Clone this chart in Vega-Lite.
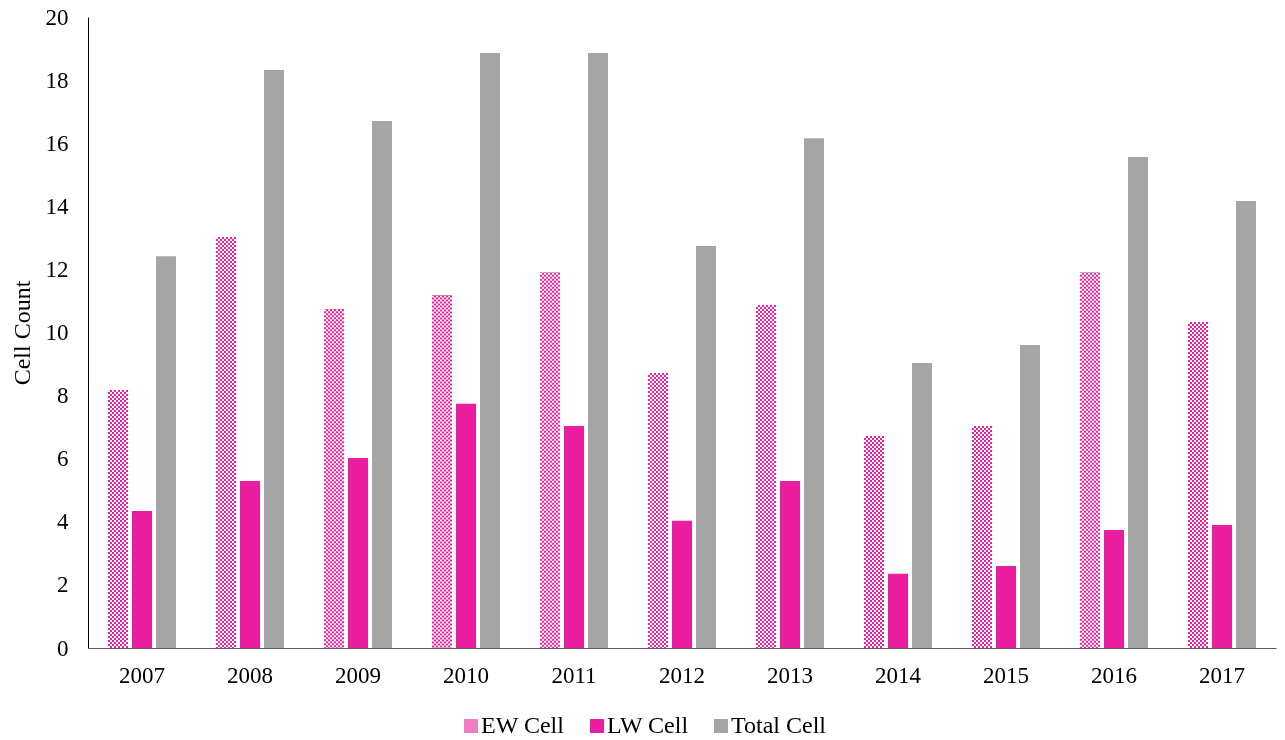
{
  "$schema": "https://vega.github.io/schema/vega-lite/v6.json",
  "width": 1188,
  "height": 631,
  "autosize": "none",
  "padding": {"left": 88, "top": 17, "right": 9, "bottom": 92},
  "background": "white",
  "config": {
    "view": {"stroke": null},
    "font": "Liberation Serif",
    "axis": {
      "labelFont": "Liberation Serif",
      "labelFontSize": 23,
      "labelColor": "#000000",
      "titleFont": "Liberation Serif",
      "titleFontSize": 24,
      "titleFontWeight": "normal",
      "titleColor": "#000000",
      "grid": false,
      "ticks": false
    }
  },
  "data": {
    "values": [
      {"year": "2007", "series": "EW Cell", "count": 8.18},
      {"year": "2007", "series": "LW Cell", "count": 4.34},
      {"year": "2007", "series": "Total Cell", "count": 12.42},
      {"year": "2008", "series": "EW Cell", "count": 13.03},
      {"year": "2008", "series": "LW Cell", "count": 5.29},
      {"year": "2008", "series": "Total Cell", "count": 18.32},
      {"year": "2009", "series": "EW Cell", "count": 10.74},
      {"year": "2009", "series": "LW Cell", "count": 6.02},
      {"year": "2009", "series": "Total Cell", "count": 16.7},
      {"year": "2010", "series": "EW Cell", "count": 11.17},
      {"year": "2010", "series": "LW Cell", "count": 7.74},
      {"year": "2010", "series": "Total Cell", "count": 18.86},
      {"year": "2011", "series": "EW Cell", "count": 11.89},
      {"year": "2011", "series": "LW Cell", "count": 7.04},
      {"year": "2011", "series": "Total Cell", "count": 18.86},
      {"year": "2012", "series": "EW Cell", "count": 8.72},
      {"year": "2012", "series": "LW Cell", "count": 4.03},
      {"year": "2012", "series": "Total Cell", "count": 12.74},
      {"year": "2013", "series": "EW Cell", "count": 10.87},
      {"year": "2013", "series": "LW Cell", "count": 5.29},
      {"year": "2013", "series": "Total Cell", "count": 16.16},
      {"year": "2014", "series": "EW Cell", "count": 6.72},
      {"year": "2014", "series": "LW Cell", "count": 2.35},
      {"year": "2014", "series": "Total Cell", "count": 9.03},
      {"year": "2015", "series": "EW Cell", "count": 7.04},
      {"year": "2015", "series": "LW Cell", "count": 2.6},
      {"year": "2015", "series": "Total Cell", "count": 9.6},
      {"year": "2016", "series": "EW Cell", "count": 11.89},
      {"year": "2016", "series": "LW Cell", "count": 3.74},
      {"year": "2016", "series": "Total Cell", "count": 15.56},
      {"year": "2017", "series": "EW Cell", "count": 10.33},
      {"year": "2017", "series": "LW Cell", "count": 3.9},
      {"year": "2017", "series": "Total Cell", "count": 14.17}
    ]
  },
  "encoding": {
    "x": {
      "field": "year",
      "type": "nominal",
      "scale": {"paddingInner": 0.333333, "paddingOuter": 0.166667},
      "axis": {"title": null, "labelAngle": 0, "labelPadding": 16, "domainColor": "#595959", "domainWidth": 1}
    },
    "xOffset": {
      "field": "series",
      "type": "nominal",
      "scale": {"domain": ["EW Cell", "LW Cell", "Total Cell"], "paddingInner": 0.166667, "paddingOuter": 0.083333}
    },
    "y": {
      "field": "count",
      "type": "quantitative",
      "scale": {"domain": [0, 20], "nice": false},
      "axis": {
        "title": "Cell Count",
        "values": [0, 2, 4, 6, 8, 10, 12, 14, 16, 18, 20],
        "labelPadding": 20,
        "domainColor": "#000000",
        "titleX": -66,
        "titleAngle": 270,
        "titleAlign": "center",
        "titleBaseline": "middle"
      }
    }
  },
  "layer": [
    {
      "transform": [{"filter": "datum.series !== 'EW Cell'"}],
      "mark": {"type": "bar"},
      "encoding": {
        "color": {
          "field": "series",
          "type": "nominal",
          "scale": {"domain": ["EW Cell", "LW Cell", "Total Cell"], "range": ["#F07DC4", "#EB1EA0", "#A5A5A5"]},
          "legend": {
            "title": null,
            "orient": "none",
            "direction": "horizontal",
            "legendX": 371,
            "legendY": 697,
            "symbolType": "square",
            "symbolSize": 196,
            "symbolStrokeWidth": 0,
            "labelFont": "Liberation Serif",
            "labelFontSize": 24,
            "labelColor": "#000000",
            "labelOffset": -2,
            "columnPadding": 20,
            "padding": 0,
            "encode": {
              "symbols": {
                "update": {
                  "fill": [
                    {
                      "test": "datum.label === 'EW Cell'",
                      "value": {
                        "gradient": "linear",
                        "x1": 0, "y1": 0, "x2": 1, "y2": 0,
                        "stops": [
                          {"offset": 0, "color": "#EB1EA0"}, {"offset": 0.1429, "color": "#EB1EA0"},
                          {"offset": 0.1429, "color": "#ffffff"}, {"offset": 0.2857, "color": "#ffffff"},
                          {"offset": 0.2857, "color": "#EB1EA0"}, {"offset": 0.4286, "color": "#EB1EA0"},
                          {"offset": 0.4286, "color": "#ffffff"}, {"offset": 0.5714, "color": "#ffffff"},
                          {"offset": 0.5714, "color": "#EB1EA0"}, {"offset": 0.7143, "color": "#EB1EA0"},
                          {"offset": 0.7143, "color": "#ffffff"}, {"offset": 0.8571, "color": "#ffffff"},
                          {"offset": 0.8571, "color": "#EB1EA0"}, {"offset": 1, "color": "#EB1EA0"}
                        ]
                      }
                    },
                    {"scale": "color", "field": "value"}
                  ]
                }
              }
            }
          }
        }
      }
    },
    {
      "transform": [{"filter": "datum.series === 'EW Cell'"}],
      "mark": {
        "type": "bar",
        "fill": {
          "gradient": "linear",
          "x1": 0, "y1": 0, "x2": 1, "y2": 0,
          "stops": [
            {"offset": 0, "color": "#000000"}, {"offset": 0.1, "color": "#000000"},
            {"offset": 0.1, "color": "#ffffff"}, {"offset": 0.2, "color": "#ffffff"},
            {"offset": 0.2, "color": "#000000"}, {"offset": 0.3, "color": "#000000"},
            {"offset": 0.3, "color": "#ffffff"}, {"offset": 0.4, "color": "#ffffff"},
            {"offset": 0.4, "color": "#000000"}, {"offset": 0.5, "color": "#000000"},
            {"offset": 0.5, "color": "#ffffff"}, {"offset": 0.6, "color": "#ffffff"},
            {"offset": 0.6, "color": "#000000"}, {"offset": 0.7, "color": "#000000"},
            {"offset": 0.7, "color": "#ffffff"}, {"offset": 0.8, "color": "#ffffff"},
            {"offset": 0.8, "color": "#000000"}, {"offset": 0.9, "color": "#000000"},
            {"offset": 0.9, "color": "#ffffff"}, {"offset": 1, "color": "#ffffff"}
          ]
        }
      }
    },
    {
      "transform": [{"filter": "datum.series === 'EW Cell'"}],
      "mark": {"type": "rule", "stroke": "#ffffff", "strokeWidth": 20, "strokeDash": [2, 2], "blend": "difference"},
      "encoding": {"y2": {"datum": 0}}
    },
    {
      "transform": [{"filter": "datum.series === 'EW Cell'"}],
      "mark": {"type": "bar", "fill": "#EB1EA0", "blend": "screen"}
    }
  ]
}
